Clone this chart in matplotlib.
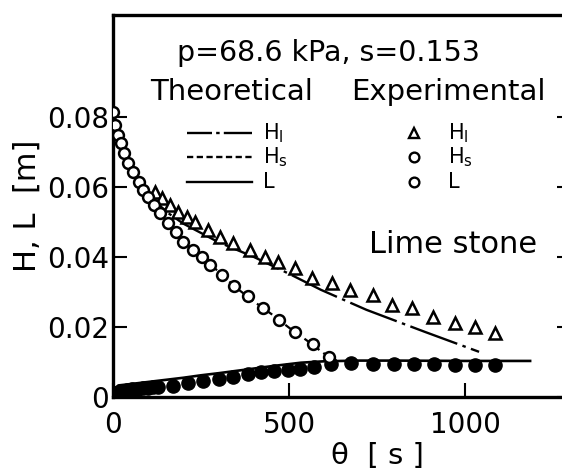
import matplotlib
matplotlib.use("Agg")
import matplotlib.pyplot as plt
from matplotlib.lines import Line2D

plt.rcParams['font.family'] = ['DejaVu Sans']
plt.rcParams['lines.scale_dashes'] = False

# ---- data ----
# Experimental H_l (triangles)
hl_exp_t = [120, 139, 162, 185, 210, 233, 270, 304, 341, 389, 432, 469, 517, 565,
            622, 673, 739, 793, 849, 909, 972, 1028, 1085]
hl_exp_v = [0.0586, 0.0569, 0.0549, 0.0529, 0.0513, 0.0500, 0.0477, 0.0457, 0.0440,
            0.0420, 0.0400, 0.0386, 0.0369, 0.0340, 0.0326, 0.0306, 0.0291, 0.0263,
            0.0254, 0.0229, 0.0211, 0.0200, 0.0183]
# Experimental H_s (open circles)
hs_exp_t = [0, 6, 14, 23, 31, 43, 57, 74, 85, 99, 116, 134, 156, 178, 199, 227, 253,
            276, 311, 345, 384, 427, 473, 517, 568, 614]
hs_exp_v = [0.0814, 0.0777, 0.0749, 0.0726, 0.0697, 0.0669, 0.0643, 0.0614, 0.0591,
            0.0571, 0.0549, 0.0526, 0.0497, 0.0470, 0.0443, 0.0420, 0.0400, 0.0377,
            0.0349, 0.0317, 0.0288, 0.0255, 0.0220, 0.0185, 0.0151, 0.0114]
# Experimental L (filled circles)
l_exp_t = [5, 15, 27, 40, 55, 70, 85, 100, 115, 129, 171, 214, 257, 300, 340, 383, 420,
           457, 497, 530, 571, 620, 677, 740, 797, 854, 911, 971, 1029, 1086]
l_exp_v = [0.0012, 0.0015, 0.0018, 0.0020, 0.0022, 0.0024, 0.0025, 0.0027, 0.0028,
           0.0029, 0.0031, 0.0040, 0.0046, 0.0051, 0.0057, 0.0066, 0.0071, 0.0074,
           0.0077, 0.0079, 0.0086, 0.0094, 0.0097, 0.0095, 0.0094, 0.0094, 0.0093,
           0.0092, 0.0092, 0.0091]
# Theoretical curves
hl_th_t = [0, 25, 50, 100, 150, 200, 300, 400, 500, 591, 720, 886, 1040]
hl_th_v = [0.082, 0.0725, 0.066, 0.058, 0.053, 0.0495, 0.0442, 0.0400, 0.0352,
           0.0306, 0.0249, 0.0186, 0.0129]
hs_th_t = [0, 25, 50, 100, 150, 200, 250, 300, 350, 400, 450, 500, 550, 600, 615]
hs_th_v = [0.082, 0.0725, 0.0655, 0.0568, 0.0505, 0.0443, 0.0402, 0.0358, 0.0312,
           0.0273, 0.0237, 0.0198, 0.0162, 0.0124, 0.0108]
l_th_t = [0, 8, 15, 50, 100, 150, 200, 250, 300, 391, 450, 534, 600, 700, 800, 1000, 1185]
l_th_v = [0, 0.0025, 0.0033, 0.0037, 0.0043, 0.0049, 0.0055, 0.0062, 0.0068, 0.0080,
          0.0088, 0.0098, 0.0102, 0.0104, 0.0104, 0.0103, 0.0103]

xticks = [0, 500, 1000]
xtick_labels = ['0', '500', '1000']
yticks = [0, 0.02, 0.04, 0.06, 0.08]
ytick_labels = ['0', '0.02', '0.04', '0.06', '0.08']

DASHDOT = (0, (36, 4, 2.5, 4))
DASHDOT_LEG = (0, (18, 3, 2.5, 3, 40))
DASHED = (0, (5, 3.5))
DASHED_LEG = (0, (4.5, 2.5))

fig = plt.figure(figsize=(5.62, 4.73), dpi=100)
ax = fig.add_axes([113/562, 76/473, 457.6/562, 382/473])
ax.set_xlim(0, 1300)
ax.set_ylim(0, 0.1091)

# theoretical lines
ax.plot(hl_th_t, hl_th_v, color='black', lw=1.7, linestyle=DASHDOT, zorder=2)
ax.plot(hs_th_t, hs_th_v, color='black', lw=1.6, linestyle=DASHED, zorder=2)
ax.plot(l_th_t, l_th_v, color='black', lw=1.9, linestyle='-', zorder=2)

# experimental points
ax.plot(l_exp_t, l_exp_v, 'o', ms=9.5, mfc='black', mec='black', zorder=3)
ax.plot(hl_exp_t, hl_exp_v, '^', ms=8.5, mfc='white', mec='black', mew=1.8, zorder=4)
ax.plot(hs_exp_t, hs_exp_v, 'o', ms=7.8, mfc='white', mec='black', mew=1.8, zorder=5)

# axes styling
for side in ['left', 'bottom', 'top', 'right']:
    ax.spines[side].set_linewidth(2.4)
ax.set_xticks(xticks)
ax.set_xticklabels(xtick_labels)
ax.set_yticks(yticks)
ax.set_yticklabels(ytick_labels)
ax.tick_params(axis='both', direction='in', length=10, width=1.5, labelsize=20,
               right=True, top=False)
ax.tick_params(axis='x', pad=10)
ax.tick_params(axis='y', pad=3)

ax.set_ylabel('H, L  [m]', fontsize=22, labelpad=4)
fig.text(377/562, 1 - 456/473, 'θ  [ s ]', fontsize=21, ha='center', va='center')

# annotation texts
ax.text(0.47, 0.90, 'p=68.6 kPa, s=0.153', transform=ax.transAxes, fontsize=20.5,
        ha='center', va='center')
ax.text(0.26, 0.798, 'Theoretical', transform=ax.transAxes, fontsize=21,
        ha='center', va='center')
ax.text(0.733, 0.798, 'Experimental', transform=ax.transAxes, fontsize=21,
        ha='center', va='center')
ax.text(0.744, 0.398, 'Lime stone', transform=ax.transAxes, fontsize=22,
        ha='center', va='center')

# manual legend
rows = [0.691, 0.628, 0.563]
styles = [DASHDOT_LEG, DASHED_LEG, '-']
names = ['H$_\\mathregular{l}$', 'H$_\\mathregular{s}$', 'L']
markers = [('^', 'white'), ('o', 'white'), ('o', 'white')]
for yy, st, nm, (mk, fc) in zip(rows, styles, names, markers):
    ax.add_line(Line2D([0.162, 0.304], [yy, yy], transform=ax.transAxes, color='black',
                       lw=1.7, linestyle=st))
    ax.text(0.328, yy, nm, transform=ax.transAxes, fontsize=15, ha='left', va='center')
    ax.add_line(Line2D([0.657], [yy], transform=ax.transAxes, marker=mk,
                       ms=7.5 if mk == '^' else 7, mfc=fc, mec='black', mew=1.7,
                       linestyle='none'))
    ax.text(0.732, yy, nm, transform=ax.transAxes, fontsize=15, ha='left', va='center')

fig.savefig('out.png', dpi=100)
